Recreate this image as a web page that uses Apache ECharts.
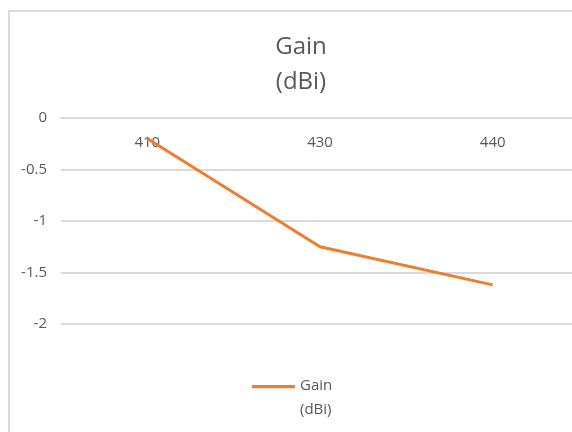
<!DOCTYPE html>
<html><head><meta charset="utf-8">
<script src="https://cdn.jsdelivr.net/npm/echarts@6/dist/echarts.min.js"></script>
<style>html,body{margin:0;padding:0;background:#fff}#c{width:572px;height:432px}</style>
</head><body><div id="c"></div>
<script>
const categories = ['410', '430', '440'];
const gainValues = [-0.2, -1.25, -1.62];
const yTicks = [0, -0.5, -1, -1.5, -2];
const seriesName = 'Gain\n(dBi)';
const titleText = 'Gain\n(dBi)';

const font = '"Open Sans", sans-serif';
const chart = echarts.init(document.getElementById('c'));
chart.setOption({
  animation: false,
  backgroundColor: '#fff',
  graphic: [{
    type: 'rect', shape: {x: 9, y: 11, width: 700, height: 600},
    style: {fill: 'none', stroke: '#d9d9d9', lineWidth: 2}, z: -1
  }],
  title: {
    text: titleText, left: 296, top: 25, textAlign: 'center',
    textStyle: {fontFamily: font, fontSize: 24, fontWeight: 'normal', color: '#595959', lineHeight: 35}
  },
  legend: {
    left: 247, top: 369, itemWidth: 43, itemHeight: 26, itemGap: 10,
    icon: 'path://M0,0H40V3H0Z M0,24H0.01V24.01H0Z',
    textStyle: {fontFamily: font, fontSize: 15, color: '#595959', lineHeight: 24}
  },
  grid: {left: 61, width: 518, top: 118, bottom: 108, containLabel: false, outerBoundsMode: 'none'},
  xAxis: {
    type: 'category', data: categories, position: 'top',
    axisLine: {show: true, onZero: false, lineStyle: {color: '#d9d9d9', width: 2}},
    axisTick: {show: false},
    axisLabel: {inside: true, fontFamily: font, fontSize: 15, color: '#595959', margin: 17}
  },
  yAxis: {
    type: 'value', min: Math.min(...yTicks), max: Math.max(...yTicks), interval: 0.5,
    axisLine: {show: false}, axisTick: {show: false},
    splitLine: {lineStyle: {color: '#d9d9d9', width: 2}},
    axisLabel: {fontFamily: font, fontSize: 15, color: '#595959', margin: 14}
  },
  series: [{
    name: seriesName, type: 'line', data: gainValues, showSymbol: false, symbol: 'none',
    lineStyle: {color: '#ed7d31', width: 3}, itemStyle: {color: '#ed7d31'}
  }]
});
</script></body></html>
